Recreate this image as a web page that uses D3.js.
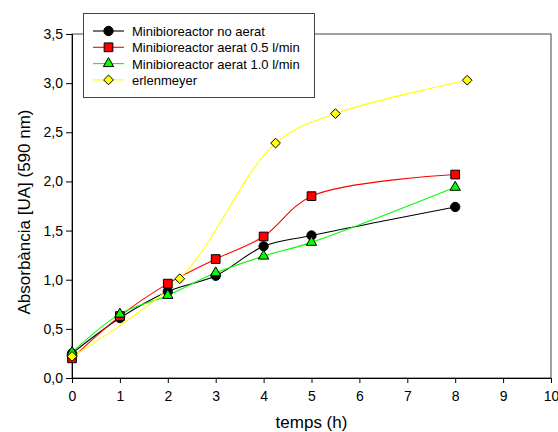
<!DOCTYPE html>
<html>
<head>
<meta charset="utf-8">
<script src="https://cdn.jsdelivr.net/npm/d3@7"></script>
<style>
  body { margin: 0; background: #fff; }
  svg { display: block; font-family: "Liberation Sans", Arial, sans-serif; }
</style>
</head>
<body>
<div id="draw"></div>
<script>
// dades
var seriesNames = ["Minibioreactor no aerat", "Minibioreactor aerat 0.5 l/min",
    "Minibioreactor aerat 1.0 l/min", "erlenmeyer"];
var tempsMini = [0, 1, 2, 3, 4, 5, 8];
var noAerat = [0.25, 0.61, 0.88, 1.04, 1.34, 1.45, 1.74];
var aerat05 = [0.20, 0.63, 0.96, 1.21, 1.44, 1.85, 2.07];
var aerat10 = [0.26, 0.65, 0.84, 1.07, 1.24, 1.38, 1.94];
var tempsErlen = [0, 2.25, 4.25, 5.5, 8.25];
var erlen = [0.22, 1.01, 2.39, 2.69, 3.03];
var xTicks = [0, 1, 2, 3, 4, 5, 6, 7, 8, 9, 10];
var yTicks = [0, 0.5, 1, 1.5, 2, 2.5, 3, 3.5];

var w = 558, h = 432;
var mLeft = 72, mRight = 551, mTop = 34, mBottom = 378;

var diamond = d3.symbolDiamond2 || d3.symbolDiamond;
var series = [
    {name: seriesNames[0], xs: tempsMini, ys: noAerat, color: "#000000", sym: d3.symbolCircle, size: 68},
    {name: seriesNames[1], xs: tempsMini, ys: aerat05, color: "#ff0000", sym: d3.symbolSquare, size: 76},
    {name: seriesNames[2], xs: tempsMini, ys: aerat10, color: "#00ff00", sym: d3.symbolTriangle, size: 46},
    {name: seriesNames[3], xs: tempsErlen, ys: erlen, color: "#ffff00", sym: diamond, size: 60}
];

var svg = d3.select("#draw").append("svg")
    .attr("width", w)
    .attr("height", h);

var x = d3.scaleLinear().domain([0, 10]).range([mLeft, mRight]);
var y = d3.scaleLinear().domain([0, 3.5]).range([mBottom, mTop]);
var fmt = function (d) { return d3.format(".1f")(d).replace(".", ","); };

// marc
svg.append("rect")
    .attr("x", mLeft).attr("y", mTop)
    .attr("width", mRight - mLeft).attr("height", mBottom - mTop)
    .attr("fill", "none").attr("stroke", "#444").attr("stroke-width", 1);

// eixos
var xAxis = svg.append("g")
    .attr("transform", "translate(0," + mBottom + ")")
    .call(d3.axisBottom(x).tickValues(xTicks).tickSize(5).tickPadding(8));
var yAxis = svg.append("g")
    .attr("transform", "translate(" + mLeft + ",0)")
    .call(d3.axisLeft(y).tickValues(yTicks).tickFormat(fmt).tickSize(6).tickPadding(3));
[xAxis, yAxis].forEach(function (g) {
    g.select(".domain").attr("stroke", "#000");
    g.selectAll(".tick line").attr("stroke", "#000");
    g.selectAll("text").attr("font-size", "14px").attr("fill", "#000")
        .attr("font-family", "Liberation Sans, Arial, sans-serif");
});

svg.append("text")
    .attr("x", x(5)).attr("y", 428)
    .attr("text-anchor", "middle")
    .attr("font-size", "17px")
    .text("temps (h)");
svg.append("text")
    .attr("transform", "translate(30," + ((mTop + mBottom) / 2 + 6) + ") rotate(-90)")
    .attr("text-anchor", "middle")
    .attr("font-size", "17px")
    .text("Absorbància [UA] (590 nm)");

// corbes
var line = d3.line()
    .x(function (d) { return x(d[0]); })
    .y(function (d) { return y(d[1]); })
    .curve(d3.curveCatmullRom);

series.forEach(function (s) {
    var pts = s.xs.map(function (v, i) { return [v, s.ys[i]]; });
    svg.append("path")
        .datum(pts)
        .attr("d", line)
        .attr("fill", "none")
        .attr("stroke", s.color)
        .attr("stroke-width", 1.1);
    s.pts = pts;
});
series.forEach(function (s) {
    svg.selectAll(null)
        .data(s.pts)
        .enter()
        .append("path")
        .attr("d", d3.symbol().type(s.sym).size(s.size))
        .attr("transform", function (d) { return "translate(" + x(d[0]) + "," + y(d[1]) + ")"; })
        .attr("fill", s.color)
        .attr("stroke", "#000")
        .attr("stroke-width", 1);
});

// llegenda
var lg = svg.append("g");
lg.append("rect")
    .attr("x", 83.5).attr("y", 13.5)
    .attr("width", 231).attr("height", 84)
    .attr("fill", "#fff").attr("stroke", "#444").attr("stroke-width", 1);
series.forEach(function (s, i) {
    var yy = 31 + i * 16.3;
    lg.append("line")
        .attr("x1", 93).attr("x2", 124)
        .attr("y1", yy).attr("y2", yy)
        .attr("stroke", s.color).attr("stroke-width", 1.1);
    lg.append("path")
        .attr("d", d3.symbol().type(s.sym).size(s.size))
        .attr("transform", "translate(108.5," + yy + ")")
        .attr("fill", s.color).attr("stroke", "#000");
    lg.append("text")
        .attr("x", 132).attr("y", yy + 5)
        .attr("font-size", "13px")
        .text(s.name);
});
</script>
</body>
</html>
